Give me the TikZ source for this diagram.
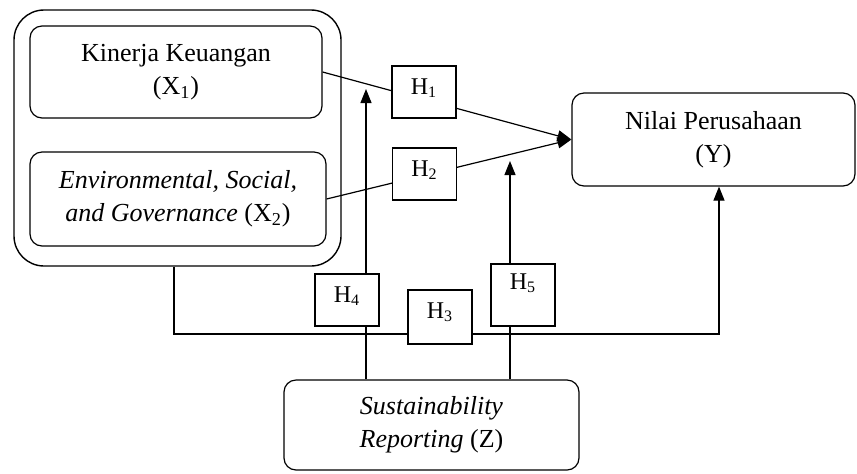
\documentclass[tikz,border=0pt]{standalone}
\usepackage{fontspec}
\setmainfont{Liberation Serif}
\usetikzlibrary{arrows.meta, positioning, calc}

\begin{document}
\begin{tikzpicture}[
    x=0.5pt, y=-0.5pt,
    var/.style={rectangle, rounded corners=6pt, draw=black, line width=0.6pt, align=center, font=\fontsize{13}{16.5}\selectfont},
    grp/.style={rectangle, rounded corners=15pt, draw=black, line width=0.7pt, minimum width=163.5pt, minimum height=128pt},
    hyp/.style={rectangle, draw=black, fill=white, line width=0.6pt, minimum width=32pt, inner xsep=2pt, inner ysep=6pt, text height=8pt, text depth=6pt, font=\fontsize{12}{14}\selectfont},
    arr/.style={-{Triangle[length=7pt, width=5.5pt]}, line width=0.6pt, draw=black},
]
    \useasboundingbox (0,0) rectangle (857,473);

    % independent variables
    \node[grp] (outer) at (177.5,138) {};
    \node[var, minimum width=146pt, minimum height=46pt] (x1) at (176,72) {Kinerja Keuangan\\(X\textsubscript{1})};
    \node[var, minimum width=148pt, minimum height=47pt] (x2) at (178,199) {\textit{Environmental, Social,}\\\textit{and Governance} (X\textsubscript{2})};

    % dependent and moderating variables
    \node[var, minimum width=141.5pt, minimum height=46.5pt] (y) at (713.5,139.5) {Nilai Perusahaan\\(Y)};
    \node[var, minimum width=147.5pt, minimum height=45pt] (z) at (431.5,425) {\textit{Sustainability}\\\textit{Reporting} (Z)};

    % free ends of the moderating arrows
    \coordinate (t4) at (366,89);
    \coordinate (t5) at (510,161);
    \coordinate (c3l) at (174,334);
    \coordinate (c3r) at (719,334);

    % paths
    \draw[arr] (x1.east) -- (y.west);
    \draw[arr] (x2.east) -- (y.west);
    \draw[arr] (z.north -| t4) -- (t4);
    \draw[arr] (z.north -| t5) -- (t5);
    \draw[arr] (outer.south -| c3l) -- (c3l) -- (c3r) -- (y.south -| c3r);

    % hypotheses
    \node[hyp] (h1) at (424,92) {H\textsubscript{1}};
    \node[hyp] (h2) at (424.5,174) {H\textsubscript{2}};
    \node[hyp] (h4) at (347,300) {H\textsubscript{4}};
    \node[hyp, text depth=7pt] (h3) at (440,317) {H\textsubscript{3}};
    \node[hyp, inner ysep=4.5pt, text depth=14pt] (h5) at (523,295) {H\textsubscript{5}};
\end{tikzpicture}
\end{document}
